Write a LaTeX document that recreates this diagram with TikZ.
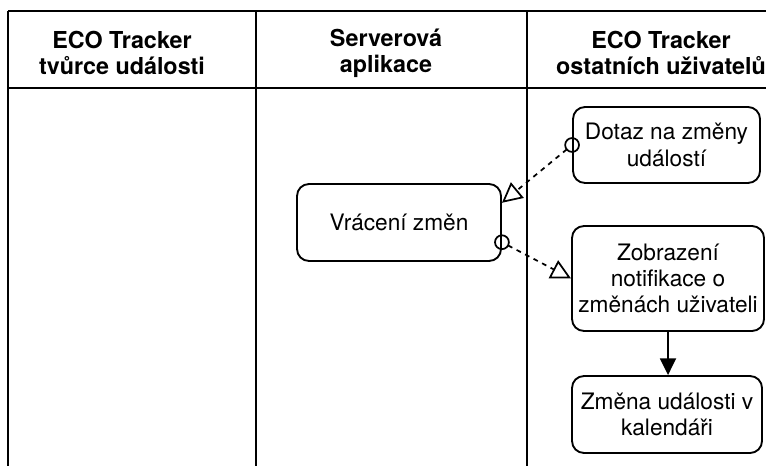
\documentclass[tikz,border=0pt]{standalone}
\usepackage{fontspec}
\setmainfont{TeX Gyre Heros}
\usetikzlibrary{arrows.meta,calc}
\begin{document}
\begin{tikzpicture}[x=0.75pt,y=-0.75pt,
  lane/.style={line width=1.6pt},
  head/.style={font=\fontsize{17.5}{19.5}\selectfont\bfseries, align=center, inner sep=0pt},
  task/.style={draw, line width=1.4pt, rounded corners=9pt, align=center,
    font=\fontsize{17}{19.8}\selectfont, inner sep=0pt},
  msg/.style={line width=1.3pt, dash pattern=on 3.6pt off 3.6pt,
    -{Triangle[open,length=15pt,width=15pt,line width=1.3pt]}, shorten <=5.2pt},
  msgstart/.style={line width=1.3pt},
  flow/.style={line width=1.4pt, -{Triangle[length=12.5pt,width=12pt]}}
]
\useasboundingbox (0,0) rectangle (766,466);

% pool frame and lanes
\draw[lane] (8,11) -- (766,11);
\draw[lane] (8,88) -- (766,88);
\draw[lane] (8,11) -- (8,466);
\draw[lane] (256,11) -- (256,466);
\draw[lane] (527,11) -- (527,466);

% lane headers
\node[head] (h1) at (122,53) {ECO Tracker\\tvůrce události};
\node[head] (h2) at (386,53) {Serverová\\aplikace};
\node[head] (h3) at (661,53) {ECO Tracker\\ostatních uživatelů};

% tasks
\node[task, minimum width=204*0.75pt, minimum height=77*0.75pt] (vr) at (399,222.5) {Vrácení změn};
\node[task, minimum width=187*0.75pt, minimum height=76*0.75pt] (dotaz) at (666.5,145) {Dotaz na změny\\událostí};
\node[task, minimum width=192*0.75pt, minimum height=105*0.75pt] (zobr) at (668,278.5) {Zobrazení\\notifikace o\\změnách uživateli};
\node[task, minimum width=190*0.75pt, minimum height=77*0.75pt] (zmena) at (667,414.5) {Změna události v\\kalendáři};

% anchor points of the message flows on the server task
\coordinate (vrin) at ($(vr.north east)!0.25!(vr.south east)$);
\coordinate (vrout) at ($(vr.north east)!0.75!(vr.south east)$);

% message flows
\draw[msgstart] (dotaz.west) circle[radius=5.2pt];
\draw[msg] (dotaz.west) -- (vrin);
\draw[msgstart] (vrout) circle[radius=5.2pt];
\draw[msg] (vrout) -- (zobr.west);

% sequence flow
\draw[flow] (zobr.south) -- (zobr.south |- zmena.north);
\end{tikzpicture}
\end{document}
